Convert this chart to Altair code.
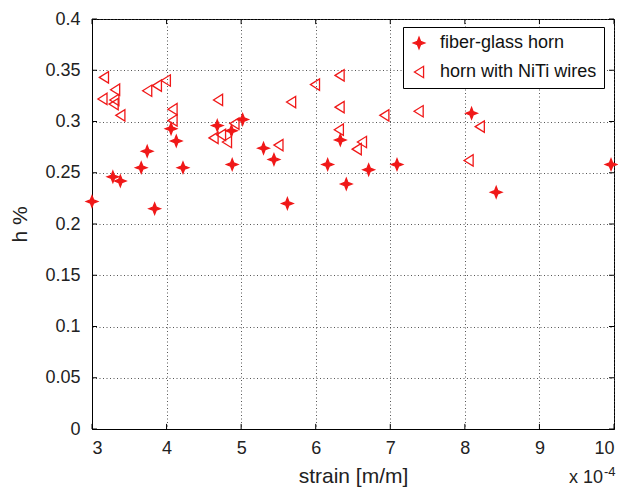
import altair as alt
import pandas as pd

# Data (strain in units of 1e-4 m/m)
fg_x = [3.00, 3.28, 3.38, 3.66, 3.74, 3.84, 4.06, 4.13, 4.22, 4.68, 4.87, 4.88,
        5.02, 5.30, 5.44, 5.62, 6.16, 6.33, 6.41, 6.71, 7.09, 8.09, 8.42, 9.96]
fg_y = [0.222, 0.246, 0.242, 0.255, 0.271, 0.215, 0.293, 0.281, 0.255, 0.296, 0.291, 0.258,
        0.302, 0.274, 0.263, 0.220, 0.258, 0.282, 0.239, 0.253, 0.258, 0.308, 0.231, 0.258]

nt_x = [3.16, 3.14, 3.31, 3.30, 3.29, 3.38, 3.74, 3.87, 3.99, 4.08, 4.08, 4.69, 4.63, 4.73,
        4.81, 4.91, 5.50, 5.67, 5.99, 6.32, 6.32, 6.31, 6.55, 6.62, 6.92, 7.38, 8.05, 8.20]
nt_y = [0.343, 0.322, 0.331, 0.321, 0.317, 0.306, 0.330, 0.335, 0.340, 0.312, 0.301, 0.321, 0.284, 0.287,
        0.280, 0.298, 0.277, 0.319, 0.336, 0.345, 0.314, 0.292, 0.273, 0.280, 0.306, 0.310, 0.262, 0.295]

series_names = ["fiber-glass horn", "horn with NiTi wires"]
x_ticks = [3, 4, 5, 6, 7, 8, 9, 10]
y_ticks = [0, 0.05, 0.1, 0.15, 0.2, 0.25, 0.3, 0.35, 0.4]

FONT = "Liberation Sans"
RED = "#f01818"
STAR = "M0,-1L0.28,-0.28L1,0L0.28,0.28L0,1L-0.28,0.28L-1,0L-0.28,-0.28Z"
TRI_LEFT = "M-0.8,0L0.8,-1L0.8,1Z"

df = pd.DataFrame(
    {"strain": fg_x + nt_x,
     "h": fg_y + nt_y,
     "series": [series_names[0]] * len(fg_x) + [series_names[1]] * len(nt_x)}
)

x_scale = alt.Scale(domain=[3, 10], nice=False, zero=False)
y_scale = alt.Scale(domain=[0, 0.4], nice=False, zero=False)

x_axis = alt.Axis(values=x_ticks, format="d", title="strain [m/m]", ticks=False,
                  grid=True, labelPadding=10, titlePadding=8)
y_axis = alt.Axis(values=y_ticks, format="~g", title="h %", ticks=False,
                  grid=True, labelPadding=12, titlePadding=14)

leg = alt.Legend(title=None, orient="none", legendX=311, legendY=8,
                 strokeColor="black", fillColor="white", padding=7,
                 labelFontSize=18, labelFont=FONT, labelColor="#111",
                 rowPadding=11, labelOffset=12, symbolSize=130, symbolStrokeWidth=1.3)

points = alt.Chart(df).mark_point(filled=False, size=130, strokeWidth=1.3, opacity=1).encode(
    x=alt.X("strain:Q", scale=x_scale, axis=x_axis),
    y=alt.Y("h:Q", scale=y_scale, axis=y_axis),
    shape=alt.Shape("series:N", scale=alt.Scale(domain=series_names, range=[STAR, TRI_LEFT]), legend=leg),
    fill=alt.Fill("series:N", scale=alt.Scale(domain=series_names, range=[RED, "transparent"]), legend=leg),
    stroke=alt.Stroke("series:N", scale=alt.Scale(domain=series_names, range=[RED, RED]), legend=leg),
)

# inward ticks (MATLAB style)
xt = pd.DataFrame({"strain": x_ticks * 2,
                   "h": [0.0] * len(x_ticks) + [0.4] * len(x_ticks),
                   "h2": [0.005] * len(x_ticks) + [0.395] * len(x_ticks)})
yt = pd.DataFrame({"h": y_ticks * 2,
                   "strain": [3.0] * len(y_ticks) + [10.0] * len(y_ticks),
                   "strain2": [3.067] * len(y_ticks) + [9.933] * len(y_ticks)})

xticks_layer = alt.Chart(xt).mark_rule(color="black", strokeWidth=1).encode(
    x=alt.X("strain:Q", scale=x_scale), y=alt.Y("h:Q", scale=y_scale), y2="h2:Q")
yticks_layer = alt.Chart(yt).mark_rule(color="black", strokeWidth=1).encode(
    y=alt.Y("h:Q", scale=y_scale), x=alt.X("strain:Q", scale=x_scale), x2="strain2:Q")

exp_base = alt.Chart(pd.DataFrame({"a": [0]})).mark_text(
    text="x 10", font=FONT, fontSize=18, color="#222", align="left", baseline="alphabetic"
).encode(x=alt.value(477), y=alt.value(464))
exp_sup = alt.Chart(pd.DataFrame({"a": [0]})).mark_text(
    text="-4", font=FONT, fontSize=13, color="#222", align="left", baseline="alphabetic"
).encode(x=alt.value(512), y=alt.value(457))

chart = alt.layer(xticks_layer, yticks_layer, points, exp_base, exp_sup).properties(
    width=522, height=410,
    background="white",
    autosize=alt.AutoSizeParams(type="none"),
    padding={"left": 84, "top": 11, "right": 4, "bottom": 59},
).configure_view(
    stroke="black", strokeWidth=1
).configure_axis(
    labelFont=FONT, labelFontSize=18, labelColor="#222",
    titleFont=FONT, titleFontSize=21, titleFontWeight="normal", titleColor="#222",
    domainColor="black", domainWidth=1,
    gridColor="#444", gridDash=[1, 2.5], gridWidth=1, gridOpacity=0.9,
)

chart.save("out.html", embed_options={"renderer": "svg", "actions": False})
